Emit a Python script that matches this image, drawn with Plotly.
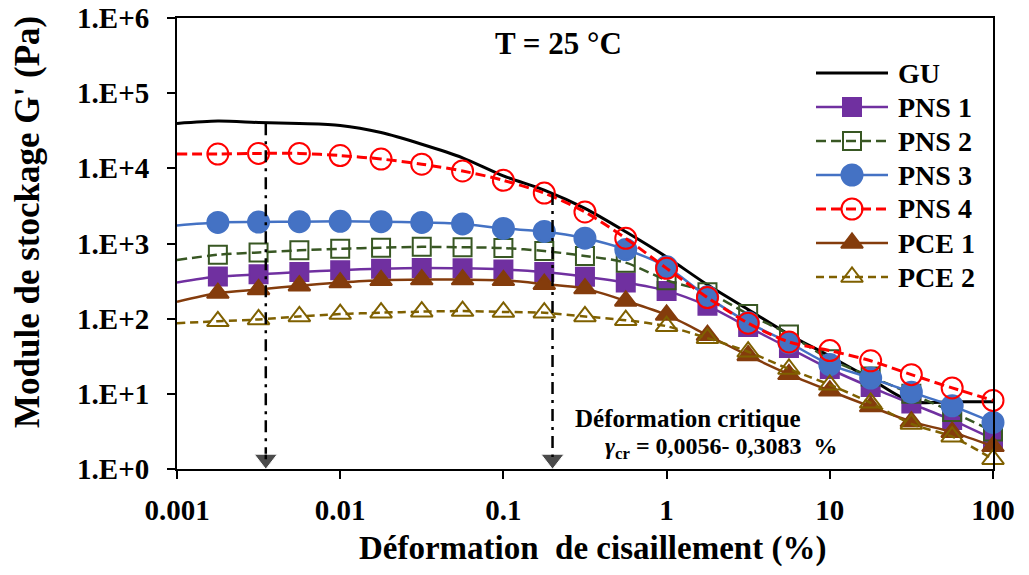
import plotly.graph_objects as go

# Shear strain (%)
strain = [0.001, 0.00178, 0.00316, 0.00562, 0.01, 0.0178, 0.0316, 0.0562, 0.1, 0.178,
          0.316, 0.562, 1, 1.78, 3.16, 5.62, 10, 17.8, 31.6, 56.2, 100]

# Storage modulus G' (Pa)
gu = [39500, 42500, 40700, 39400, 37200, 29900, 20900, 13800, 7940, 5130,
      2930, 1430, 661, 282, 132, 61.7, 31.6, 15.8, 7.9, 7.85, 7.85]
pns1 = [302, 363, 389, 417, 442, 462, 473, 468, 452, 417,
        361, 302, 234, 148, 77.6, 40.7, 21.4, 12.3, 7.41, 4.47, 2.51]
pns2 = [603, 708, 759, 813, 851, 881, 902, 891, 871, 794,
        684, 556, 324, 224, 115, 61.7, 28.8, 17.0, 10.0, 5.75, 3.16]
pns3 = [1740, 1905, 1930, 1950, 1970, 1950, 1905, 1820, 1585, 1445,
        1175, 832, 490, 195, 89.1, 47.9, 24.5, 16.2, 10.5, 6.92, 4.17]
pns4 = [15500, 15500, 15800, 15800, 14800, 13300, 11350, 9230, 6920, 4680,
        2630, 1170, 467, 191, 87.1, 49.0, 37.6, 27.5, 18.0, 12.0, 8.18]
pce1 = [168, 219, 245, 275, 302, 324, 331, 331, 324, 288,
        251, 172, 112, 60.3, 32.4, 18.2, 11.0, 6.76, 4.27, 3.09, 2.0]
pce2 = [87.1, 92.3, 97.7, 107, 115, 120, 124, 126, 123, 120,
        107, 95.5, 79.4, 55.0, 36.3, 21.4, 13.2, 7.59, 3.98, 2.69, 1.35]

# critical strain markers (vertical arrows)
crit_x = [0.0035, 0.2]
crit_top = [39800, 4700]
crit_bottom = 1.35

y_tickvals = [1, 10, 100, 1000, 1e4, 1e5, 1e6]
y_ticktext = ["1.E+0", "1.E+1", "1.E+2", "1.E+3", "1.E+4", "1.E+5", "1.E+6"]
x_tickvals = [0.001, 0.01, 0.1, 1, 10, 100]
x_ticktext = ["0.001", "0.01", "0.1", "1", "10", "100"]

FONT = "Liberation Serif"
W, H = 1029, 575
ML, MR, MT, MB = 177, 36, 18, 106
PW, PH = W - ML - MR, H - MT - MB


def px_x(px):
    return (px - ML) / PW


def px_y(py):
    return (H - MB - py) / PH


fig = go.Figure()
first_hidden = [0] + [1] * (len(strain) - 1)

series = [
    # name, values, color, dash, symbol, size, line width
    ("GU", gu, "black", "solid", None, 0, 3),
    ("PNS 1", pns1, "#7030A0", "solid", "square", 18, 2.5),
    ("PNS 2", pns2, "#385723", "10px,5px", "square-open", 18, 2.5),
    ("PNS 3", pns3, "#4472C4", "solid", "circle", 21, 2.5),
    ("PNS 4", pns4, "#FF0000", "10px,5px", "circle-open", 21, 3),
    ("PCE 1", pce1, "#843C0C", "solid", "triangle-up", 19, 2.5),
    ("PCE 2", pce2, "#7F6000", "8px,5px", "triangle-up-open", 19, 2.5),
]

for name, vals, col, dash, sym, size, lw in series:
    if sym is None:
        fig.add_trace(go.Scatter(
            x=strain, y=vals, name=name, mode="lines", showlegend=False,
            line=dict(color=col, width=lw, shape="spline", smoothing=0.8)))
    else:
        fig.add_trace(go.Scatter(
            x=strain, y=vals, name=name, mode="lines+markers", cliponaxis=False,
            showlegend=False,
            line=dict(color=col, width=lw, dash=dash, shape="spline", smoothing=0.8),
            marker=dict(symbol=sym, size=size, color=col, opacity=first_hidden,
                        line=dict(color=col, width=2))))

for cx, ct in zip(crit_x, crit_top):
    fig.add_trace(go.Scatter(
        x=[cx, cx], y=[ct, crit_bottom], mode="lines+markers", showlegend=False,
        cliponaxis=False,
        line=dict(color="black", width=2.5, dash="12px,6px,3px,6px"),
        marker=dict(symbol="triangle-down", size=[0, 20], color="black")))

# Legend drawn on an overlay axis in plot-fraction coordinates
annotations = []
for i, (name, vals, col, dash, sym, size, lw) in enumerate(series):
    ly = px_y(73 + 34 * i)
    xs = [px_x(816), px_x(852), px_x(888)]
    if sym is None:
        fig.add_trace(go.Scatter(x=xs, y=[ly] * 3, xaxis="x2", yaxis="y2", mode="lines",
                                 showlegend=False, hoverinfo="skip",
                                 line=dict(color=col, width=lw)))
    else:
        fig.add_trace(go.Scatter(x=xs, y=[ly] * 3, xaxis="x2", yaxis="y2",
                                 mode="lines+markers", showlegend=False, hoverinfo="skip",
                                 line=dict(color=col, width=lw, dash=dash),
                                 marker=dict(symbol=sym, size=size, color=col,
                                             opacity=[0, 1, 0],
                                             line=dict(color=col, width=2))))
    annotations.append(dict(text=name, xref="paper", yref="paper", x=px_x(896), y=ly,
                            showarrow=False, xanchor="left", yanchor="middle",
                            font=dict(family=FONT, size=28, color="black", weight="bold")))

axis_common = dict(type="log", showgrid=False, zeroline=False, showline=True,
                   automargin=False,
                   linecolor="black", linewidth=2, mirror=True, ticks="outside",
                   ticklen=8, tickwidth=2, tickcolor="black",
                   tickfont=dict(family=FONT, size=29, color="black", weight="bold"))

fig.update_xaxes(range=[-3, 2], tickvals=x_tickvals, ticktext=x_ticktext,
                 ticklabelstandoff=6, **axis_common)
fig.update_yaxes(range=[0, 6], tickvals=y_tickvals, ticktext=y_ticktext,
                 ticklabelstandoff=12, **axis_common)

annotations += [
    dict(text="T = 25 °C", xref="paper", yref="paper", x=0.467, y=px_y(44),
         showarrow=False, xanchor="center", yanchor="middle",
         font=dict(family=FONT, size=31, color="black", weight="bold")),
    dict(text="Déformation critique", xref="paper", yref="paper", x=px_x(573), y=px_y(418),
         showarrow=False, xanchor="left", yanchor="middle",
         font=dict(family=FONT, size=25, color="black", weight="bold")),
    dict(text="<i>γ</i><sub>cr</sub> = 0,0056- 0,3083&nbsp;&nbsp;%", xref="paper", yref="paper",
         x=px_x(603), y=px_y(448), showarrow=False, xanchor="left", yanchor="middle",
         font=dict(family=FONT, size=24, color="black", weight="bold")),
    dict(text="Déformation&nbsp;&nbsp;de cisaillement (%)", xref="paper", yref="paper",
         x=px_x(592), y=px_y(548), showarrow=False, xanchor="center", yanchor="middle",
         font=dict(family=FONT, size=33, color="black", weight="bold")),
    dict(text="Module de stockage G' (Pa)", xref="paper", yref="paper",
         x=px_x(28), y=px_y(222), showarrow=False, xanchor="center", yanchor="middle",
         textangle=-90,
         font=dict(family=FONT, size=35, color="black", weight="bold")),
]

fig.update_layout(
    width=W, height=H,
    margin=dict(l=ML, r=MR, t=MT, b=MB),
    plot_bgcolor="white", paper_bgcolor="white",
    showlegend=False,
    xaxis2=dict(overlaying="x", anchor="y2", range=[0, 1], visible=False,
                fixedrange=True, automargin=False),
    yaxis2=dict(overlaying="y", anchor="x2", range=[0, 1], visible=False,
                fixedrange=True, automargin=False),
    annotations=annotations,
)

fig.write_html("out.html")
